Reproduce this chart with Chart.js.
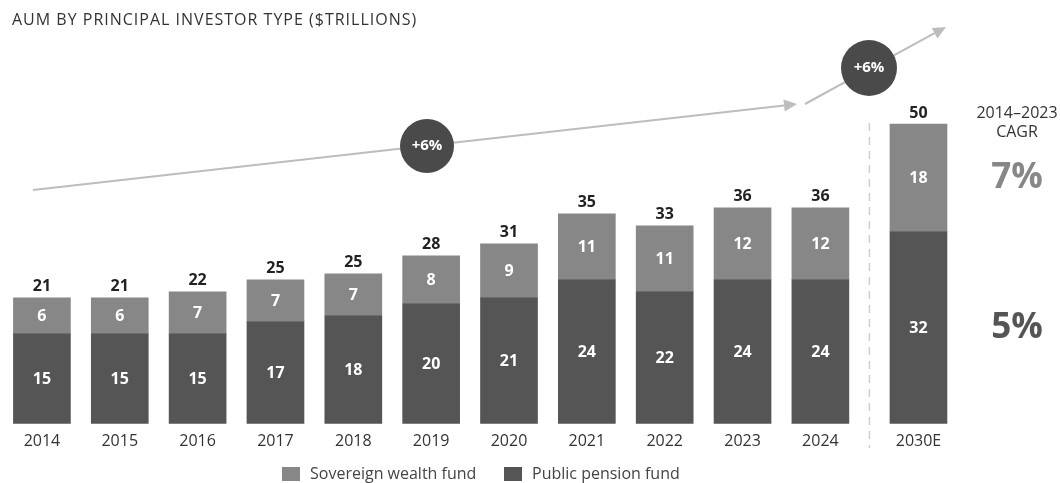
<!DOCTYPE html>
<html>
<head>
<meta charset="utf-8">
<script src="https://cdn.jsdelivr.net/npm/chart.js@4.4.0/dist/chart.umd.min.js"></script>
<style>
html, body { margin: 0; padding: 0; background: #fff; }
#wrap { width: 1060px; height: 483px; position: relative; }
</style>
</head>
<body>
<div id="wrap"><canvas id="aumChart"></canvas></div>
<script>
// dados
var categories = ['2014', '2015', '2016', '2017', '2018', '2019', '2020', '2021', '2022', '2023', '2024', '2030E'];
var publicPension = [15, 15, 15, 17, 18, 20, 21, 24, 22, 24, 24, 32];
var sovereignWealth = [6, 6, 7, 7, 7, 8, 9, 11, 11, 12, 12, 18];
var totals = [21, 21, 22, 25, 25, 28, 31, 35, 33, 36, 36, 50];
var cagrValues = ['7%', '5%']; // swf, pension
var growthLabels = ['+6%', '+6%'];

var DARK = '#555555';
var LIGHT = '#878787';
var FONT = "'Open Sans', 'Noto Sans', sans-serif";

// 2030E fica um pouco afastado dos outros
var slot = categories.map(function(c, i) { return i < categories.length - 1 ? i : i + 0.26; });

function toPoints(values) {
    return values.map(function(v, i) { return { x: slot[i], y: v }; });
}

function arrow(ctx, x1, y1, x2, y2) {
    var ang = Math.atan2(y2 - y1, x2 - x1);
    var len = 13, half = 6;
    ctx.strokeStyle = '#bdbdbd';
    ctx.fillStyle = '#bdbdbd';
    ctx.lineWidth = 2;
    ctx.beginPath();
    ctx.moveTo(x1, y1);
    ctx.lineTo(x2 - Math.cos(ang) * len, y2 - Math.sin(ang) * len);
    ctx.stroke();
    ctx.beginPath();
    ctx.moveTo(x2, y2);
    ctx.lineTo(x2 - Math.cos(ang) * len - Math.sin(ang) * half, y2 - Math.sin(ang) * len + Math.cos(ang) * half);
    ctx.lineTo(x2 - Math.cos(ang) * len + Math.sin(ang) * half, y2 - Math.sin(ang) * len - Math.cos(ang) * half);
    ctx.closePath();
    ctx.fill();
}

function bubble(ctx, x, y, r, text) {
    ctx.fillStyle = '#4a4a4a';
    ctx.beginPath();
    ctx.arc(x, y, r, 0, Math.PI * 2);
    ctx.fill();
    ctx.fillStyle = '#fff';
    ctx.font = 'bold 15px ' + FONT;
    ctx.textAlign = 'center';
    ctx.textBaseline = 'middle';
    ctx.fillText(text, x, y);
}

var extras = {
    id: 'extras',
    afterDraw: function(chart) {
        var ctx = chart.ctx;
        var xs = chart.scales.x;
        var pension = chart.getDatasetMeta(0).data;
        var swf = chart.getDatasetMeta(1).data;
        ctx.save();

        // titulo
        ctx.fillStyle = '#333';
        ctx.font = '16px ' + FONT;
        ctx.letterSpacing = '1px';
        ctx.textAlign = 'left';
        ctx.textBaseline = 'middle';
        ctx.fillText('AUM BY PRINCIPAL INVESTOR TYPE ($TRILLIONS)', 12, 20);
        ctx.letterSpacing = '0px';

        // valores dentro das barras
        ctx.textAlign = 'center';
        ctx.fillStyle = '#fff';
        ctx.font = 'bold 16px ' + FONT;
        [pension, swf].forEach(function(bars, d) {
            var vals = d === 0 ? publicPension : sovereignWealth;
            bars.forEach(function(bar, i) {
                ctx.fillText(vals[i], bar.x, (bar.y + bar.base) / 2 + 1);
            });
        });

        // totais
        ctx.fillStyle = '#222';
        swf.forEach(function(bar, i) {
            ctx.fillText(totals[i], bar.x, bar.y - 11);
        });

        // linha tracejada antes de 2030E
        var n = categories.length;
        var sepX = xs.getPixelForValue((slot[n - 2] + slot[n - 1]) / 2);
        ctx.strokeStyle = '#cfcfcf';
        ctx.lineWidth = 1.5;
        ctx.setLineDash([8, 6]);
        ctx.beginPath();
        ctx.moveTo(sepX, 123);
        ctx.lineTo(sepX, 448);
        ctx.stroke();
        ctx.setLineDash([]);

        // setas de crescimento
        arrow(ctx, 33, 190, 797, 104);
        arrow(ctx, 805, 104, 946, 27);
        bubble(ctx, 427, 146, 27, growthLabels[0]);
        bubble(ctx, 869, 68, 28, growthLabels[1]);

        // CAGR
        var last = n - 1;
        var cx = 1017;
        ctx.fillStyle = '#333';
        ctx.font = '16px ' + FONT;
        ctx.fillText('2014\u20132023', cx, 113);
        ctx.fillText('CAGR', cx, 132);
        ctx.font = 'bold 35px ' + FONT;
        ctx.fillStyle = LIGHT;
        ctx.fillText(cagrValues[0], cx, (swf[last].y + swf[last].base) / 2);
        ctx.fillStyle = DARK;
        ctx.fillText(cagrValues[1], cx, (pension[last].y + pension[last].base) / 2);

        // legenda
        var legend = [['Sovereign wealth fund', LIGHT, 282], ['Public pension fund', DARK, 504]];
        ctx.font = '16px ' + FONT;
        ctx.textAlign = 'left';
        legend.forEach(function(item) {
            ctx.fillStyle = item[1];
            ctx.fillRect(item[2], 467, 18, 14);
            ctx.fillStyle = '#444';
            ctx.fillText(item[0], item[2] + 28, 474);
        });

        ctx.restore();
    }
};

var ctx = document.getElementById('aumChart').getContext('2d');
var aumChart = new Chart(ctx, {
    type: 'bar',
    data: {
        datasets: [{
            label: 'Public pension fund',
            data: toPoints(publicPension),
            backgroundColor: DARK,
            barThickness: 57
        }, {
            label: 'Sovereign wealth fund',
            data: toPoints(sovereignWealth),
            backgroundColor: LIGHT,
            barThickness: 57
        }]
    },
    options: {
        responsive: true,
        maintainAspectRatio: false,
        animation: false,
        layout: {
            padding: { left: 3, right: 45, top: 40, bottom: 24 }
        },
        plugins: {
            legend: { display: false },
            tooltip: { enabled: false }
        },
        scales: {
            x: {
                type: 'linear',
                stacked: true,
                offset: false,
                min: -0.5,
                max: 12.5,
                grid: { display: false, drawTicks: false },
                border: { display: false },
                afterBuildTicks: function(axis) {
                    axis.ticks = slot.map(function(v) { return { value: v }; });
                },
                ticks: {
                    autoSkip: false,
                    maxRotation: 0,
                    padding: 8,
                    color: '#333',
                    font: { size: 16, family: FONT },
                    callback: function(value, index) { return categories[index]; }
                }
            },
            y: {
                display: false,
                stacked: true,
                min: 0,
                max: 64
            }
        }
    },
    plugins: [extras]
});
</script>
</body>
</html>
